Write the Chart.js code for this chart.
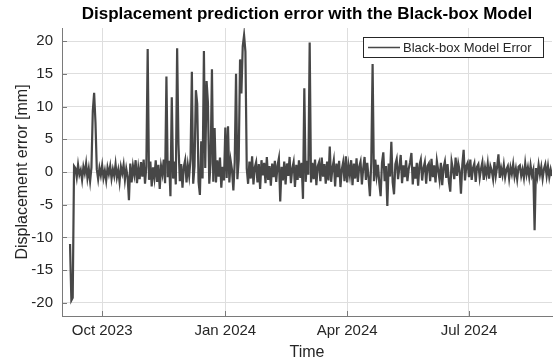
<!DOCTYPE html>
<html lang="en">
<head>
    <meta charset="UTF-8">
    <title>Displacement prediction error</title>
    <script src="https://cdn.jsdelivr.net/npm/chart.js"></script>
    <style>
        body { margin: 0; background: #fff; }
        #wrap { width: 555px; height: 363px; }
    </style>
</head>
<body>
    <div id="wrap">
        <canvas id="errorChart" width="555" height="363"></canvas>
    </div>

    <script>
        // x values are days since 1 Sep 2023, one sample per day
        const firstDay = 6;
        const errorValues = [
            -11.0, -19.6, -19.2, 0.9, 0.6, -0.8, 1.1, -0.4, 0.3, -1.2,
            0.8, -0.2, 1.3, -0.9, 0.5, -1.4, 0.7, 9.3, 12.1, 7.6,
            0.4, -1.1, 0.6, -0.5, 1.0, -0.9, 0.2, -1.3, 0.7, -0.3,
            0.9, -1.0, 0.4, -0.6, 1.2, -0.8, 0.3, -1.5, 0.8, -0.2,
            1.1, -1.2, 0.5, -0.7, -4.3, 1.3, -1.6, 0.9, -0.4, 1.8,
            -1.7, 0.6, -1.1, 1.5, -0.7, 1.9, -1.8, 0.8, 18.8, -1.2,
            1.6, -2.2, 0.7, -0.9, 1.8, -1.5, 1.1, -2.6, 0.9, -0.3,
            1.9, -1.7, 14.6, -0.8, 1.7, -3.7, 11.4, -1.0, 1.6, -1.9,
            18.9, 4.2, -1.4, 1.2, -2.4, 0.8, 1.8, -1.6, 1.0, -0.6,
            2.0, 15.3, -1.8, 0.9, 12.5, 10.4, -1.5, -3.5, 4.7, -1.0,
            18.5, 0.6, 13.9, 10.6, -1.8, 1.4, 15.7, -1.5, 6.7, -1.6,
            1.8, -0.7, 2.2, -2.4, 0.8, -1.3, 6.8, -0.9, 7.0, -1.6,
            1.7, 0.3, -2.8, 1.5, 15.0, -1.1, 1.9, 17.2, 12.0, 19.2,
            20.9, 18.4, 0.5, -1.8, 1.6, -1.0, 2.4, -1.9, 0.7, 1.5,
            -1.6, 1.2, -2.6, 1.8, -0.5, 1.4, -1.7, 2.3, -1.2, 0.9,
            -2.1, 1.3, -0.8, 1.7, -1.5, 1.0, 2.1, -4.5, 0.8, -1.3,
            1.6, -1.9, 1.3, -0.6, 2.3, -1.7, 0.5, 1.5, -2.3, 1.1,
            -1.2, 1.8, -0.9, 1.4, -4.1, 12.8, -1.5, 1.7, -0.4, 19.8,
            -1.6, 1.4, -1.1, 1.9, -2.0, 0.9, 1.5, -1.4, 2.2, -0.7,
            1.2, -1.8, 1.6, -1.3, 3.9, -1.5, 0.6, 1.8, -2.2, 1.3,
            -0.8, 1.7, -2.3, 0.4, 1.5, -1.4, 2.4, -1.6, 1.0, -0.5,
            1.8, -2.0, 1.3, -1.0, 2.1, -1.5, 0.8, 1.6, -1.9, 0.6,
            2.3, -1.2, 1.4, -0.9, -3.7, 1.5, 16.5, -1.4, 1.9, -0.6,
            1.1, -1.7, -3.7, 1.4, 3.0, -1.4, 0.9, -5.2, 1.3, -0.7,
            4.6, -1.6, -3.4, 1.2, 2.0, -1.1, 0.7, 2.6, -1.7, 1.0,
            -0.8, 1.8, -1.4, 0.5, 1.5, 2.9, -1.9, 0.8, -1.0, 1.4,
            -2.1, 1.1, 1.9, -1.3, 0.6, 1.5, -1.8, 0.9, 1.3, -1.4,
            2.0, -0.8, 1.0, -1.6, 1.7, 0.3, -1.2, 1.4, -2.0, 0.7,
            1.6, -0.9, 1.2, -1.5, -3.0, 1.6, 0.4, -1.1, 2.2, -0.6,
            1.3, 0.2, -3.3, 1.1, 3.4, -1.3, 0.9, 1.4, -0.8, 1.9,
            -1.2, 0.6, 1.3, -1.5, 0.8, 1.2, -0.9, 0.5, 1.5, -1.2,
            0.7, -0.4, 1.3, -1.0, 0.9, 0.2, -1.1, 1.5, -0.6, 0.8,
            2.7, -0.9, 0.6, -0.5, 1.1, -0.8, 0.4, 0.9, -1.0, 0.7,
            -0.3, 1.2, -0.7, 0.5, -1.1, 0.8, 1.0, -0.6, 0.4, -0.9,
            1.3, -0.4, 0.7, -0.8, 1.0, -0.5, 0.3, -8.9, 0.6, -0.7,
            1.1, -0.4, 0.8, -1.0, 0.5, 1.2, -0.6, 0.9, -0.8, 0.4, -0.6
        ];

        const xMin = 0;      // 1 Sep 2023
        const xMax = 366;    // 1 Sep 2024
        const tickDays = [30, 122, 213, 304];
        const tickLabels = ['Oct 2023', 'Jan 2024', 'Apr 2024', 'Jul 2024'];
        const yTicks = [-20, -15, -10, -5, 0, 5, 10, 15, 20];

        const FONT = "'Liberation Sans', Arial, Helvetica, sans-serif";
        const lineColor = '#474747';
        const textColor = '#262626';
        const axisColor = '#7a7a7a';

        const points = errorValues.map((v, i) => ({ x: firstDay + i, y: v }));

        // matlab style ticks pointing into the axes, plus the boxed legend
        const axesExtras = {
            id: 'axesExtras',
            afterDraw(chart) {
                const ctx = chart.ctx;
                const area = chart.chartArea;
                const xs = chart.scales.x;
                const ys = chart.scales.y;
                ctx.save();
                ctx.strokeStyle = axisColor;
                ctx.lineWidth = 1;
                ctx.beginPath();
                yTicks.forEach(t => {
                    const py = Math.round(ys.getPixelForValue(t)) + 0.5;
                    ctx.moveTo(area.left, py);
                    ctx.lineTo(area.left + 5, py);
                });
                tickDays.forEach(d => {
                    const px = Math.round(xs.getPixelForValue(d)) + 0.5;
                    ctx.moveTo(px, area.bottom);
                    ctx.lineTo(px, area.bottom - 5);
                });
                ctx.stroke();

                // legend box
                ctx.fillStyle = '#fff';
                ctx.fillRect(363.5, 37.5, 180, 20);
                ctx.strokeStyle = textColor;
                ctx.strokeRect(363.5, 37.5, 180, 20);
                ctx.strokeStyle = lineColor;
                ctx.lineWidth = 1.5;
                ctx.beginPath();
                ctx.moveTo(368, 47.5);
                ctx.lineTo(400, 47.5);
                ctx.stroke();
                ctx.fillStyle = textColor;
                ctx.font = '13px ' + FONT;
                ctx.textBaseline = 'middle';
                ctx.fillText('Black-box Model Error', 403, 48);
                ctx.restore();
            }
        };

        new Chart(document.getElementById('errorChart'), {
            type: 'line',
            data: {
                datasets: [{
                    label: 'Black-box Model Error',
                    data: points,
                    borderColor: lineColor,
                    borderWidth: 2.2,
                    pointRadius: 0,
                    tension: 0,
                    fill: false
                }]
            },
            options: {
                responsive: false,
                animation: false,
                layout: { padding: { left: 0, right: 3, top: 0, bottom: 0 } },
                plugins: {
                    legend: { display: false },
                    tooltip: { enabled: false },
                    title: {
                        display: true,
                        fullSize: false,
                        text: 'Displacement prediction error with the Black-box Model',
                        color: '#000',
                        font: { family: FONT, size: 17, weight: 'bold' },
                        padding: { top: 4, bottom: 3.6 }
                    }
                },
                scales: {
                    x: {
                        type: 'linear',
                        min: xMin,
                        max: xMax,
                        afterBuildTicks: s => { s.ticks = tickDays.map(v => ({ value: v })); },
                        afterFit: s => { s.height = 47; },
                        ticks: {
                            callback: (v) => tickLabels[tickDays.indexOf(v)],
                            color: textColor,
                            font: { family: FONT, size: 15 },
                            padding: 6,
                            maxRotation: 0,
                            autoSkip: false
                        },
                        grid: { color: '#dedede', drawTicks: false },
                        border: { color: axisColor, width: 1 },
                        title: {
                            display: true,
                            text: 'Time',
                            color: textColor,
                            font: { family: FONT, size: 16 },
                            padding: { top: 0, bottom: 1 }
                        }
                    },
                    y: {
                        min: -22,
                        max: 22,
                        afterBuildTicks: s => { s.ticks = yTicks.map(v => ({ value: v })); },
                        afterFit: s => { s.width = 62; },
                        ticks: {
                            color: textColor,
                            font: { family: FONT, size: 15 },
                            padding: 9
                        },
                        grid: { color: '#dedede', drawTicks: false },
                        border: { color: axisColor, width: 1 },
                        title: {
                            display: true,
                            text: 'Displacement error [mm]',
                            color: textColor,
                            font: { family: FONT, size: 16 },
                            padding: { top: 13, bottom: 0 }
                        }
                    }
                }
            },
            plugins: [axesExtras]
        });
    </script>
</body>
</html>
